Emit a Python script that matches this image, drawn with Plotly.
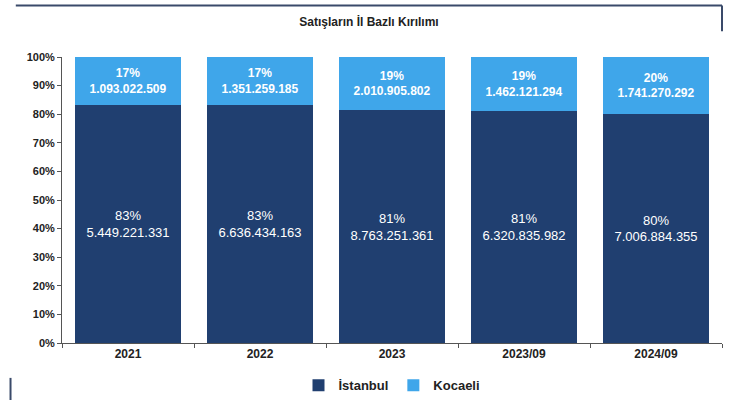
import plotly.graph_objects as go

categories = ["2021", "2022", "2023", "2023/09", "2024/09"]
istanbul = [5449221331, 6636434163, 8763251361, 6320835982, 7006884355]
kocaeli = [1093022509, 1351259185, 2010905802, 1462121294, 1741270292]
istanbul_pct_labels = ["83%", "83%", "81%", "81%", "80%"]
kocaeli_pct_labels = ["17%", "17%", "19%", "19%", "20%"]
y_ticks = [0, 10, 20, 30, 40, 50, 60, 70, 80, 90, 100]


def fmt(v):
    return f"{v:,}".replace(",", ".")


ist_text = [f"{p}<br>{fmt(v)}" for p, v in zip(istanbul_pct_labels, istanbul)]
koc_text = [f"<b>{p}<br>{fmt(v)}</b>" for p, v in zip(kocaeli_pct_labels, kocaeli)]

DARK = "#203f70"
LIGHT = "#3fa6ea"
FONT = "Liberation Sans, Arial, sans-serif"

fig = go.Figure()
fig.add_trace(go.Bar(
    x=categories, y=istanbul, name="<b>İstanbul</b>", marker_color=DARK,
    marker_line_width=0,
    text=ist_text, textposition="inside", insidetextanchor="middle",
    textfont=dict(color="white", size=13, family=FONT), hoverinfo="skip",
))
fig.add_trace(go.Bar(
    x=categories, y=kocaeli, name="<b>Kocaeli</b>", marker_color=LIGHT,
    marker_line_width=0,
    text=koc_text, textposition="inside", insidetextanchor="middle",
    textfont=dict(color="white", size=12, family=FONT), hoverinfo="skip",
))

fig.update_layout(
    barmode="stack", barnorm="percent", bargap=0.2,
    width=738, height=400,
    margin=dict(l=62, r=16, t=57, b=57, autoexpand=False),
    paper_bgcolor="white", plot_bgcolor="white",
    font=dict(family=FONT, color="#222222"),
    title=dict(text="<b>Satışların İl Bazlı Kırılımı</b>", x=0.5, xanchor="center",
               y=0.945, yanchor="middle", font=dict(size=12, color="#222222")),
    legend=dict(orientation="h", x=0.5, xanchor="center", yref="container",
                y=0.037, yanchor="middle",
                font=dict(size=13, color="#222222"), traceorder="normal",
                itemwidth=30),
    showlegend=True,
)
fig.update_yaxes(
    range=[0, 100], tickvals=y_ticks, ticktext=[f"<b>{t}%</b>" for t in y_ticks],
    showgrid=False, showline=True, linecolor="#555555", linewidth=1,
    ticks="outside", ticklen=4, tickcolor="#555555", zeroline=False,
    tickfont=dict(size=11, color="#222222"),
)
fig.update_xaxes(
    showgrid=False, showline=True, linecolor="#555555", linewidth=1,
    ticks="outside", tickson="boundaries", ticklen=4, tickcolor="#555555",
    tickfont=dict(size=12, color="#222222"),
    tickprefix="<b>", ticksuffix="</b>",
)
# decorative frame lines
fig.add_shape(type="line", xref="paper", yref="paper", x0=-0.07, x1=1.0, y0=1.18, y1=1.18,
              line=dict(color="#3a4a6a", width=2))
fig.add_shape(type="line", xref="paper", yref="paper", x0=1.0, x1=1.0, y0=1.18, y1=1.09,
              line=dict(color="#3a4a6a", width=2))
fig.add_shape(type="line", xref="paper", yref="paper", x0=-0.078, x1=-0.078, y0=-0.122, y1=-0.2,
              line=dict(color="#3a4a6a", width=2))

fig.write_html("out.html", post_script="document.body.style.margin='0';",
               config={"displayModeBar": False})
